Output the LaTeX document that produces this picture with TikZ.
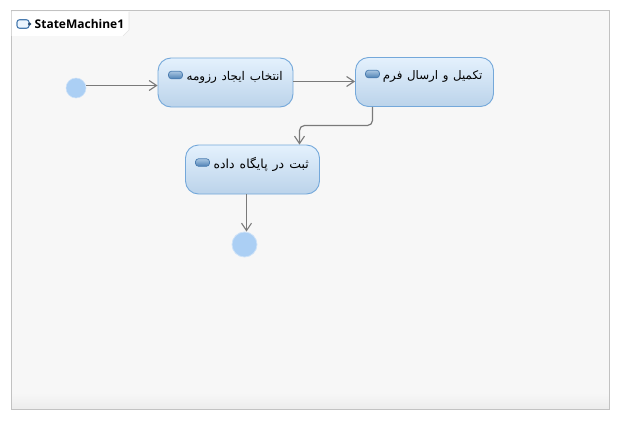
\documentclass[tikz,border=0pt]{standalone}
\usepackage{fontspec}
\setmainfont{Open Sans}
\newfontfamily\arabicfont[Script=Arabic,WordSpace=1.25]{DejaVu Sans}
\TeXXeTstate=1
\usetikzlibrary{arrows.meta}
\definecolor{frameline}{HTML}{C2C2C2}
\definecolor{framefill}{HTML}{F7F7F7}
\definecolor{framelow}{HTML}{ECECEC}
\definecolor{boxline}{HTML}{74A8DA}
\definecolor{boxtop}{HTML}{E4F1FD}
\definecolor{boxlow}{HTML}{BBD3EA}
\definecolor{dotfill}{HTML}{ABCFF4}
\definecolor{wire}{HTML}{7A7A7A}
\definecolor{iconline}{HTML}{4A7CB0}
\definecolor{icontop}{HTML}{A9C6E2}
\definecolor{iconlow}{HTML}{4F82B5}
\tikzset{
  x=1pt,y=-1pt,
  statebox/.style={draw=boxline,line width=0.9pt,rounded corners=13pt,top color=boxtop,bottom color=boxlow,minimum height=49pt,inner sep=0pt},
  startdot/.style={circle,fill=dotfill,draw=dotfill!60!white,line width=0.5pt,minimum size=20pt,inner sep=0pt},
  enddot/.style={circle,fill=dotfill,draw=dotfill!60!white,line width=0.8pt,minimum size=25pt,inner sep=0pt},
  wireline/.style={draw=wire,line width=1.2pt,-{Straight Barb[length=7.5pt,width=10pt,line width=1.1pt]}},
  stateicon/.style={draw=iconline,line width=0.7pt,rounded corners=3pt,top color=icontop,bottom color=iconlow,minimum width=14pt,minimum height=7.5pt,inner sep=0pt},
  statetext/.style={inner sep=0pt,font=\arabicfont\fontsize{#1}{14pt}\selectfont,text=black},
}
\begin{document}
\begin{tikzpicture}
\useasboundingbox (0,0) rectangle (620,420);
% frame
\fill[framefill] (11,11) rectangle (609,393);
\shade[top color=framefill,bottom color=framelow] (11,393) rectangle (609,409);
\draw[frameline,line width=1pt] (11,11) rectangle (609,409);
% title tab
\fill[white] (11.5,11.5) -- (129,11.5) -- (129,30) -- (123,36) -- (11.5,36) -- cycle;
\draw[frameline!45!white,line width=0.6pt] (129,12) -- (129,30) -- (123,36);
\node[draw=iconline,line width=1.1pt,rounded corners=2.5pt,fill=boxtop!70!white,minimum width=12pt,minimum height=8.5pt,inner sep=0pt] (titleicon) at (23,24) {};
\fill[iconline!60!black] (titleicon.east) circle (1.7pt);
\node[inner sep=0pt,anchor=west,font=\bfseries\fontsize{12pt}{14pt}\selectfont] (title) at (34.5,24) {StateMachine1};
% states
\node[statebox,minimum width=135pt] (one) at (225.5,82.5) {};
\node[statebox,minimum width=138pt] (two) at (424.5,82) {};
\node[statebox,minimum width=134pt] (three) at (252.5,169.5) {};
\node[stateicon] (oneicon) at (175.5,75) {};
\node[stateicon] (twoicon) at (372.5,74) {};
\node[stateicon] (threeicon) at (202.5,162.5) {};
\node[statetext=12pt,anchor=east] (onetext) at (283,77) {\beginR انتخاب ایجاد رزومه\endR};
\node[statetext=11.8pt,anchor=east] (twotext) at (482.5,76) {\beginR تکمیل و ارسال فرم\endR};
\node[statetext=12.5pt,anchor=east] (threetext) at (309,164) {\beginR ثبت در پایگاه داده\endR};
% pseudostates
\node[startdot] (start) at (76,88) {};
\node[enddot] (end) at (244.5,244.5) {};
% connectors
\draw[wireline] (start.east |- 0,85.5) -- (one.west |- 0,85.5);
\draw[wireline] (one.east |- 0,81.5) -- (two.west |- 0,81.5);
\draw[wireline,rounded corners=5pt] (two.south -| 372.5,0) -- (372.5,125.5) -- (299.5,125.5) -- (three.north -| 299.5,0);
\draw[wireline] (three.south -| 246.5,0) -- (end.north -| 246.5,0);
\end{tikzpicture}
\end{document}
